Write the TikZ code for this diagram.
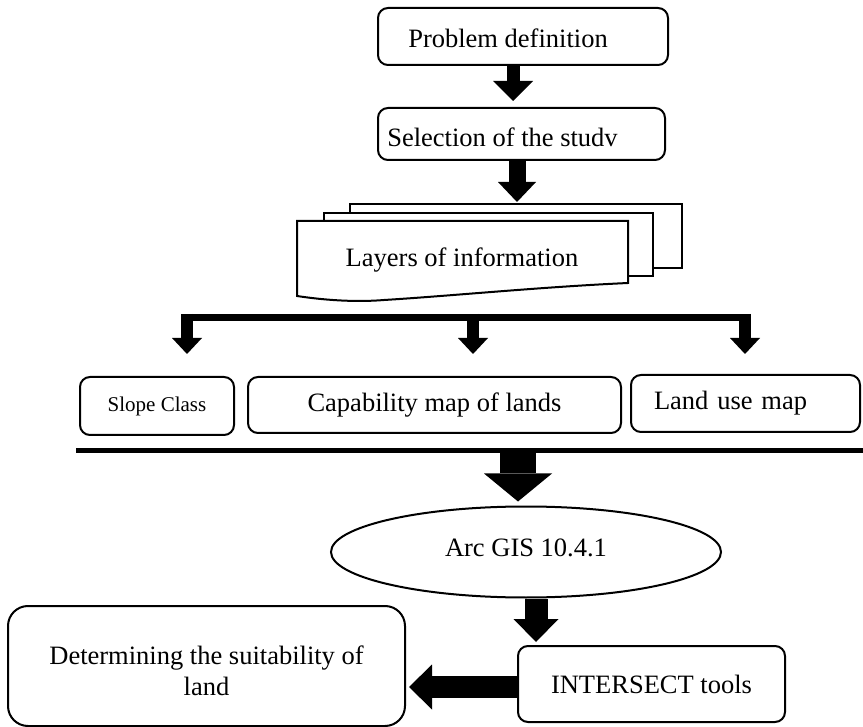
\documentclass[tikz,border=0pt]{standalone}
\usepackage{fontspec}
\setmainfont{Liberation Serif}
\usepackage{tikz}
\usetikzlibrary{arrows.meta,calc,shapes.geometric}

\tikzset{
  box/.style={draw, line width=2pt, rounded corners=10pt, align=center, inner sep=0pt, font=\fontsize{26.5}{31}\selectfont},
  sheet/.style={draw, line width=2pt, fill=white, inner sep=0pt},
  blockarrow/.style n args={3}{line width=#1, -{Triangle[width=#2,length=#3,line width=0pt]}},
}

\begin{document}
\begin{tikzpicture}[x=1pt,y=1pt,yscale=-1,xscale=1]
\useasboundingbox (0,0) rectangle (863,727);

%Rounded Rect
\node[box, minimum width=290pt, minimum height=57pt, text height=23pt, text depth=0pt] (prob) at (523,36.5) {Problem definition\hspace*{30pt}};
%Rounded Rect
\node[box, minimum width=287pt, minimum height=52pt, text height=26pt, text depth=0pt] (sel) at (521.5,134) {Selection of the studv\hspace*{38pt}};

%Multiple Documents
\node[sheet, minimum width=332pt, minimum height=64pt] (sheetC) at (516,236) {};
\node[sheet, minimum width=329pt, minimum height=63pt] (sheetB) at (488.5,244.5) {};
\draw [line width=2pt, fill=white] (297,296) -- (297,221) -- (628,221) -- (628,283) .. controls (540,287) and (450,296) .. (384,300) .. controls (360,302) and (330,301) .. (297,296) -- cycle ;
% Text Node
\node[font=\fontsize{26.5}{31}\selectfont] (layers) at (462,260) {Layers of information};

%Rounded Rect
\node[box, minimum width=154pt, minimum height=58pt, font=\fontsize{21}{25}\selectfont] (slope) at (157,406) {Slope Class};
\node[box, minimum width=373pt, minimum height=56pt] (cap) at (434.5,405) {Capability map of lands};
\node[box, minimum width=229pt, minimum height=57pt, text width=183pt, align=left, inner xsep=23pt] (land) at (745.5,403.5) {Land use map};

%Ellipse
\node[draw, ellipse, line width=2pt, minimum width=390pt, minimum height=91pt, inner sep=0pt, text depth=8pt, font=\fontsize{26.5}{31}\selectfont] (arc) at (526,552) {Arc GIS 10.4.1};
%Rounded Rect
\node[box, minimum width=267pt, minimum height=76pt] (inter) at (651.5,684) {INTERSECT tools};
\node[box, rounded corners=20pt, minimum width=397pt, minimum height=120pt, text height=59pt, text depth=0pt] (det) at (206.5,666) {Determining the suitability of\\land};

%Straight Lines
\coordinate (barL) at (181,317.5);
\coordinate (barR) at (751,317.5);
\draw [line width=7pt] (barL) -- (barR) ;
\coordinate (brA) at (187,314);
\coordinate (brB) at (473,314);
\coordinate (brC) at (745,314);
\draw [blockarrow={12pt}{30pt}{16pt}, shorten >=22pt] (brA) -- (brA |- slope.north) ;
\draw [blockarrow={12pt}{30pt}{16pt}, shorten >=22pt] (brB) -- (brB |- cap.north) ;
\draw [blockarrow={12pt}{30pt}{16pt}, shorten >=20pt] (brC) -- (brC |- land.north) ;

%Straight Lines
\coordinate (sepL) at (76,450.5);
\coordinate (sepR) at (863,450.5);
\draw [line width=5pt] (sepL) -- (sepR) ;

%Block Arrows
\coordinate (psTop) at ($(prob.south)+(-10,0)$);
\draw [blockarrow={13pt}{40pt}{20pt}, shorten >=6pt] (psTop) -- (psTop |- sel.north) ;
\coordinate (slTop) at ($(sel.south)+(-4.5,0)$);
\draw [blockarrow={17pt}{38pt}{20pt}, shorten >=1pt] (slTop) -- (slTop |- sheetC.north) ;
\coordinate (sepA) at (518,453);
\draw [blockarrow={36pt}{68pt}{28pt}, shorten >=4pt] (sepA) -- (sepA |- arc.north) ;
\coordinate (aiTop) at ($(arc.south)+(10,0)$);
\draw [blockarrow={23pt}{45pt}{23pt}, shorten >=3pt] (aiTop) -- (aiTop |- inter.north) ;
\coordinate (idR) at ($(inter.west)+(0,3)$);
\draw [blockarrow={22pt}{45pt}{23pt}, shorten >=3pt] (idR) -- (idR -| det.east) ;
\end{tikzpicture}
\end{document}
